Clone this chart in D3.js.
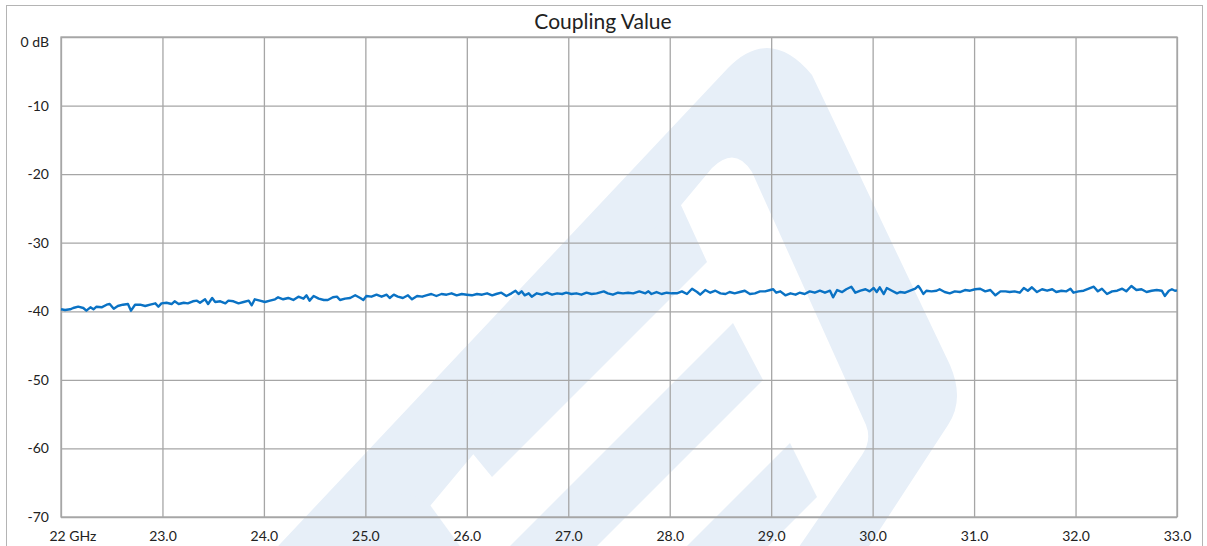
<!DOCTYPE html>
<html><head><meta charset="utf-8">
<script src="https://cdn.jsdelivr.net/npm/d3@7"></script>
<style>
html,body{margin:0;padding:0;background:#fff;}
svg{display:block;}
text{font-family:Lato,"Open Sans",sans-serif;fill:#222;}
</style></head>
<body><svg id="c" width="1207" height="546"></svg>
<script>
const title = "Coupling Value";
const xTicks = [22,23,24,25,26,27,28,29,30,31,32,33];
const xTickLabels = ["22 GHz","23.0","24.0","25.0","26.0","27.0","28.0","29.0","30.0","31.0","32.0","33.0"];
const yTicks = [0,-10,-20,-30,-40,-50,-60,-70];
const yTickLabels = ["0 dB","-10","-20","-30","-40","-50","-60","-70"];
const freqGHz = [
22.00,22.04,22.09,22.12,22.17,22.22,22.25,22.29,22.32,22.35,22.40,22.45,22.48,22.52,22.56,22.61,22.66,22.69,22.73,22.78,
22.83,22.88,22.93,22.96,22.99,23.04,23.09,23.12,23.16,23.21,23.25,23.30,23.34,23.37,23.42,23.45,23.49,23.52,23.57,23.62,
23.65,23.70,23.75,23.80,23.85,23.88,23.91,23.96,24.01,24.06,24.11,24.14,24.19,24.24,24.29,24.34,24.39,24.42,24.45,24.49,
24.54,24.59,24.63,24.68,24.72,24.75,24.80,24.85,24.90,24.95,24.98,25.01,25.06,25.11,25.16,25.21,25.24,25.28,25.32,25.37,
25.42,25.46,25.51,25.56,25.60,25.65,25.70,25.75,25.80,25.85,25.90,25.95,26.00,26.05,26.10,26.15,26.20,26.25,26.29,26.34,
26.39,26.44,26.48,26.51,26.54,26.57,26.61,26.64,26.69,26.74,26.79,26.84,26.89,26.94,26.98,27.03,27.08,27.13,27.18,27.23,
27.28,27.35,27.39,27.44,27.49,27.54,27.59,27.64,27.70,27.76,27.79,27.82,27.87,27.92,27.97,28.02,28.07,28.12,28.17,28.22,
28.27,28.30,28.35,28.40,28.45,28.50,28.55,28.59,28.64,28.69,28.74,28.79,28.84,28.89,28.94,28.99,29.02,29.05,29.09,29.14,
29.19,29.24,29.28,29.33,29.38,29.43,29.48,29.53,29.58,29.61,29.65,29.70,29.74,29.79,29.83,29.88,29.93,29.97,30.01,30.04,
30.07,30.11,30.14,30.19,30.24,30.27,30.32,30.37,30.42,30.45,30.47,30.50,30.53,30.58,30.63,30.66,30.71,30.76,30.81,30.86,
30.91,30.96,31.01,31.06,31.11,31.16,31.21,31.26,31.31,31.35,31.40,31.45,31.49,31.53,31.57,31.62,31.67,31.72,31.77,31.81,
31.86,31.91,31.95,31.98,32.03,32.08,32.13,32.18,32.22,32.26,32.31,32.36,32.41,32.46,32.50,32.55,32.60,32.65,32.70,32.75,
32.80,32.85,32.88,32.92,32.95,32.98,33.00];
const couplingDb = [
-39.71,-39.81,-39.71,-39.52,-39.33,-39.52,-39.91,-39.42,-39.71,-39.33,-39.42,-39.04,-38.94,-39.62,-39.23,-39.04,-38.94,-39.91,-39.04,-39.04,
-39.23,-39.04,-38.84,-39.33,-38.84,-38.75,-38.94,-38.54,-38.94,-38.75,-38.84,-38.54,-38.45,-38.75,-38.25,-38.94,-38.06,-38.65,-38.54,-38.84,
-38.45,-38.54,-38.84,-38.65,-38.45,-39.13,-38.25,-38.45,-38.65,-38.45,-38.25,-37.96,-38.25,-38.06,-38.35,-37.87,-38.16,-37.67,-38.45,-37.77,
-38.16,-38.35,-38.35,-37.96,-37.87,-38.35,-38.16,-38.06,-37.67,-38.06,-38.35,-37.77,-37.87,-37.58,-37.87,-37.58,-38.06,-37.58,-37.87,-38.06,
-37.67,-38.25,-37.77,-37.87,-37.67,-37.48,-37.77,-37.48,-37.58,-37.38,-37.67,-37.48,-37.58,-37.67,-37.48,-37.58,-37.38,-37.67,-37.48,-37.29,
-37.77,-37.38,-37.00,-37.48,-37.09,-37.67,-37.38,-37.87,-37.38,-37.58,-37.29,-37.58,-37.38,-37.48,-37.29,-37.48,-37.38,-37.58,-37.29,-37.48,
-37.38,-37.09,-37.38,-37.58,-37.29,-37.38,-37.29,-37.38,-37.09,-37.38,-37.09,-37.48,-37.19,-37.48,-37.29,-37.38,-37.38,-37.09,-37.48,-36.71,
-37.19,-37.58,-36.90,-37.29,-37.00,-37.38,-37.48,-37.19,-37.38,-37.19,-37.00,-37.48,-37.38,-37.09,-37.09,-36.90,-36.79,-37.29,-37.09,-37.67,
-37.38,-37.58,-37.29,-37.48,-37.09,-37.29,-37.00,-37.29,-37.00,-37.96,-36.90,-37.19,-36.79,-36.42,-37.29,-37.00,-36.79,-37.09,-36.60,-37.19,
-36.50,-37.48,-36.60,-37.00,-37.38,-37.19,-37.29,-37.00,-36.71,-36.31,-36.71,-37.48,-37.00,-37.09,-37.00,-36.79,-37.19,-37.38,-37.09,-37.19,
-36.90,-37.00,-36.79,-36.71,-37.09,-36.90,-37.67,-37.09,-37.09,-37.19,-37.09,-37.29,-36.60,-37.00,-36.50,-37.19,-36.79,-37.00,-36.79,-37.19,
-37.00,-37.09,-36.71,-37.29,-37.09,-37.00,-36.71,-36.42,-37.09,-36.71,-37.48,-37.09,-37.00,-36.71,-37.09,-36.31,-36.90,-36.79,-37.19,-37.00,
-36.90,-37.00,-37.77,-37.00,-36.79,-37.00,-36.95];

const svg = d3.select("#c");
const m = {left:61, right:1177, top:37, bottom:517};
const x = d3.scaleLinear().domain([22,33]).range([m.left, m.right]);
const y = d3.scaleLinear().domain([-70,0]).range([m.bottom, m.top]);

// outer chart border
svg.append("rect").attr("x",6.5).attr("y",5.5).attr("width",1196).attr("height",560)
  .attr("fill","#fff").attr("stroke","#b4b4b4").attr("stroke-width",1);

// watermark (decorative)
const wm = svg.append("g").attr("fill","#e7eff8");
wm.append("path").attr("fill-rule","evenodd").attr("d",
  "M265,560 L728,68 Q770,25 812,75 L950,365 Q965,400 948,425 L860,560 Z " +
  "M385,560 L712,168 Q735,145 752,172 L866,425 Q872,440 862,455 L790,560 Z");
wm.append("path").attr("d","M455,432 L680,203 L707,262 L492,477 Z");
wm.append("path").attr("d","M496,560 L733,323 L763,380 L583,560 Z");
wm.append("path").attr("d","M673,560 L790,443 L817,497 L754,560 Z");
wm.append("path").attr("d","M345,560 L360,510 Q395,480 430,505 L470,560 Z");

// grid via axes
const gx = svg.append("g").attr("transform",`translate(0,${m.bottom})`)
  .call(d3.axisBottom(x).tickValues(xTicks).tickSize(-(m.bottom-m.top)).tickFormat((d,i)=>xTickLabels[i]));
gx.select(".domain").remove();
gx.selectAll("line").attr("stroke","#a6a6a6").attr("stroke-width",1.3);
gx.selectAll("text").attr("y",19).attr("dy","0.35em").attr("font-size",14).attr("fill","#222")
  .style("font-family","Lato, sans-serif");
gx.selectAll(".tick").filter((d,i)=>i===0).select("text").attr("text-anchor","start").attr("x",-12);

const gy = svg.append("g").attr("transform",`translate(${m.left},0)`)
  .call(d3.axisLeft(y).tickValues(yTicks).tickSize(-(m.right-m.left)).tickFormat(d=>yTickLabels[yTicks.indexOf(d)]));
gy.select(".domain").remove();
gy.selectAll("line").attr("stroke","#a6a6a6").attr("stroke-width",1.3);
gy.selectAll("text").attr("x",-12).attr("font-size",14).attr("fill","#222").style("font-family","Lato, sans-serif");
gy.selectAll(".tick").filter(d=>d===0).select("text").attr("dy","0.65em");

svg.append("rect").attr("x",m.left).attr("y",m.top).attr("width",m.right-m.left).attr("height",m.bottom-m.top)
  .attr("fill","none").attr("stroke","#a6a6a6").attr("stroke-width",1.3);

// title
svg.append("text").attr("x",603).attr("y",29).attr("text-anchor","middle")
  .attr("font-size",21).style("font-family","Lato, sans-serif").attr("fill","#222").text(title);

// line
const data = freqGHz.map((f,i)=>({f, v:couplingDb[i]}));
svg.append("path").datum(data)
  .attr("fill","none").attr("stroke","#0a72c4").attr("stroke-width",2.4).attr("stroke-linejoin","round")
  .attr("d", d3.line().x(d=>x(d.f)).y(d=>y(d.v)));
</script></body></html>
